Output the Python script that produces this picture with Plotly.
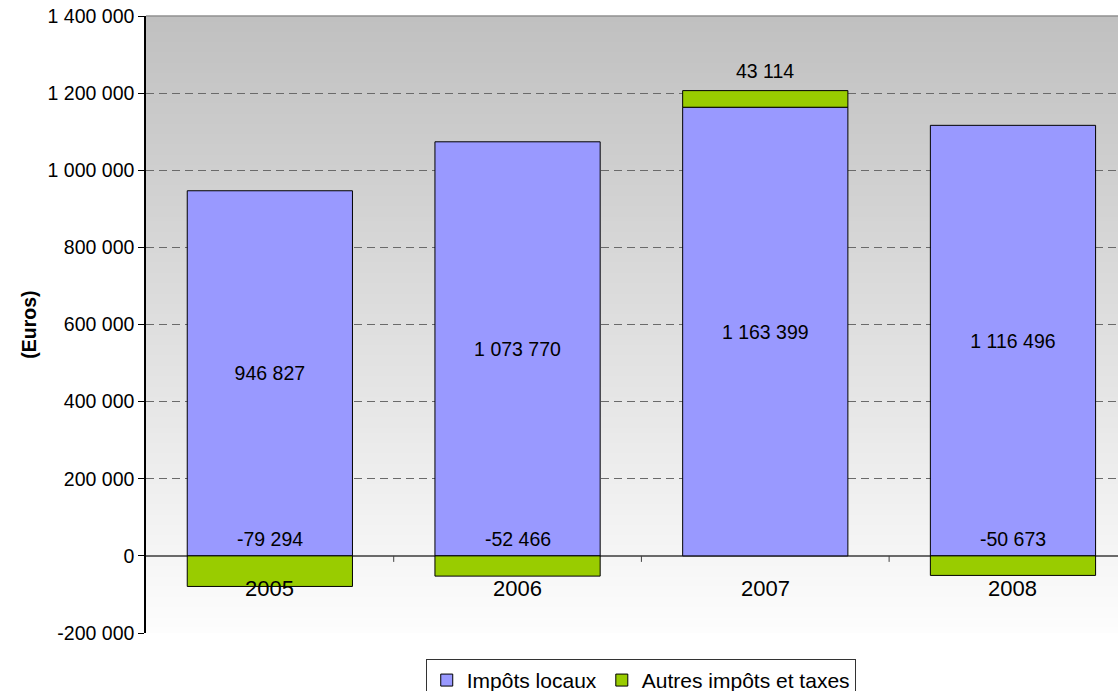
import plotly.graph_objects as go

years = ["2005", "2006", "2007", "2008"]
impots_locaux = [946827, 1073770, 1163399, 1116496]
autres_impots = [-79294, -52466, 43114, -50673]
tick_vals = [-200000, 0, 200000, 400000, 600000, 800000, 1000000, 1200000, 1400000]
tick_text = ["-200 000", "0", "200 000", "400 000", "600 000", "800 000",
             "1 000 000", "1 200 000", "1 400 000"]

def fmt(v):
    s = f"{abs(v):,}".replace(",", " ")
    return ("-" if v < 0 else "") + s

FONT = "Liberation Sans, Arial, sans-serif"
PURPLE = "#9999FF"
GREEN = "#99CC00"
FS = 19.5

fig = go.Figure()
fig.add_trace(go.Bar(
    x=years, y=impots_locaux, name="Impôts locaux",
    marker=dict(color=PURPLE, line=dict(color="black", width=1)),
    width=0.667,
    text=[fmt(v) for v in impots_locaux], textposition="inside",
    insidetextanchor="middle", constraintext="none",
    textfont=dict(family=FONT, size=FS, color="black"),
    hoverinfo="skip",
))
fig.add_trace(go.Bar(
    x=years, y=autres_impots, name="Autres impôts et taxes",
    marker=dict(color=GREEN, line=dict(color="black", width=1)),
    width=0.667, hoverinfo="skip",
))

# background gradient (overlapping layers, top dark -> bottom light)
shapes = []
n = 120
for i in range(n):
    t = i / (n - 1)
    c = int(round(192 + (253 - 192) * t))
    shapes.append(dict(type="rect", xref="x domain", yref="y domain",
                       x0=0, x1=1, y0=0, y1=1 - i / n,
                       fillcolor=f"rgb({c},{c},{c})", line=dict(width=0),
                       layer="below"))
# top border
shapes.append(dict(type="line", xref="x domain", yref="y domain", x0=0, x1=1,
                   y0=1, y1=1, line=dict(color="#909090", width=1.5)))
# category separator ticks on the zero line
for k in range(len(years) - 1):
    shapes.append(dict(type="line", xref="x", yref="y", ysizemode="pixel",
                       yanchor=0, x0=k + 0.5, x1=k + 0.5, y0=0, y1=-6,
                       line=dict(color="#404040", width=1)))

annotations = []
for k, (yr, a, b) in enumerate(zip(years, impots_locaux, autres_impots)):
    annotations.append(dict(x=k, y=0, xref="x", yref="y", text=yr,
                            showarrow=False, yshift=-33,
                            font=dict(family=FONT, size=22, color="black")))
    if b < 0:
        annotations.append(dict(x=k, y=0, xref="x", yref="y", text=fmt(b),
                                showarrow=False, yshift=17,
                                font=dict(family=FONT, size=FS, color="black")))
    else:
        annotations.append(dict(x=k, y=a + b, xref="x", yref="y", text=fmt(b),
                                showarrow=False, yshift=20,
                                font=dict(family=FONT, size=FS, color="black")))

fig.update_layout(
    width=1118, height=691,
    margin=dict(l=146, r=0, t=16, b=58, autoexpand=False),
    paper_bgcolor="white", plot_bgcolor="rgba(0,0,0,0)",
    barmode="relative", bargap=1/3,
    font=dict(family=FONT, color="black"),
    shapes=shapes, annotations=annotations,
    showlegend=True,
    legend=dict(orientation="h", x=0.509, xanchor="center", y=-0.042, yanchor="top",
                bordercolor="#333333", borderwidth=1, bgcolor="white",
                font=dict(family=FONT, size=21, color="black"),
                itemwidth=30, tracegroupgap=0, traceorder="normal"),
)
fig.update_xaxes(type="category", range=[-0.5, 3.424], showticklabels=False, ticks="",
                 showgrid=False, showline=False, zeroline=False, fixedrange=True,
                 automargin=False)
fig.update_yaxes(range=[-200000, 1400000], tickvals=tick_vals, ticktext=tick_text,
                 ticks="outside", ticklen=6, tickcolor="black",
                 tickfont=dict(family=FONT, size=FS, color="black"),
                 showline=True, linecolor="black", linewidth=1.5,
                 showgrid=True, gridcolor="#6a6a6a", griddash="8px,5px", gridwidth=1,
                 zeroline=True, zerolinecolor="#6a6a6a", zerolinewidth=1.5,
                 title=dict(text="<b>(Euros)</b>", standoff=6,
                            font=dict(family=FONT, size=FS, color="black")),
                 automargin=False, fixedrange=True)

fig.write_html("out.html", config={"displayModeBar": False},
               post_script="document.body.style.margin='0';document.body.style.overflow='hidden';")
